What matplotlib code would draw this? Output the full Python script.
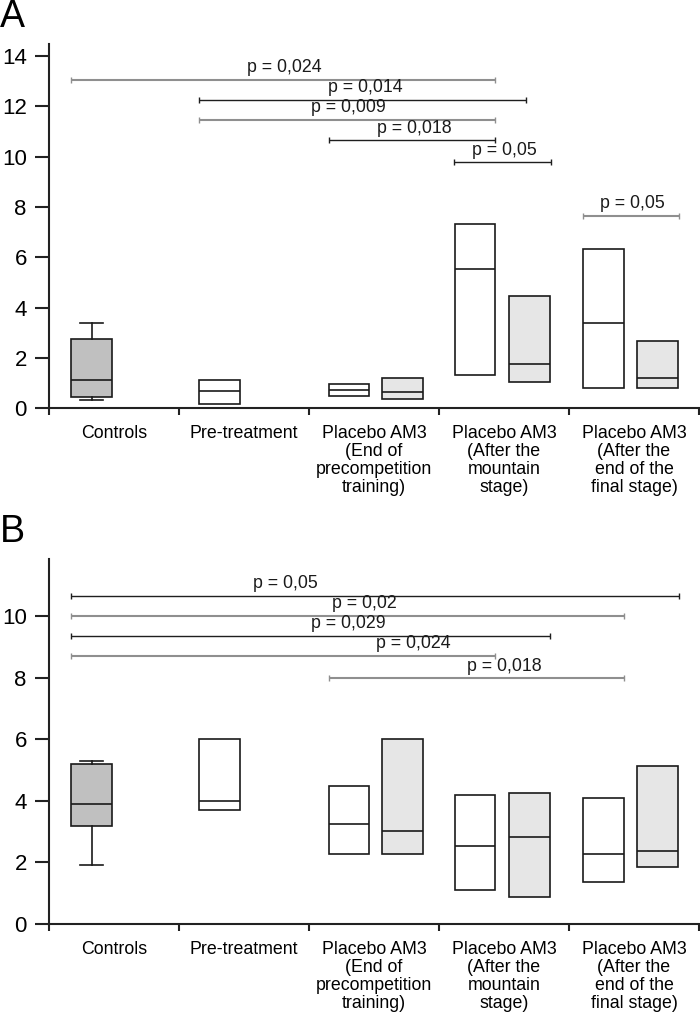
import matplotlib
matplotlib.use("Agg")
import matplotlib.pyplot as plt

plt.rcParams['font.family'] = ['Liberation Sans', 'DejaVu Sans']

# ---------------- data ----------------
categories = ["Controls", "Pre-treatment",
              "Placebo AM3\n(End of\nprecompetition\ntraining)",
              "Placebo AM3\n(After the\nmountain\nstage)",
              "Placebo AM3\n(After the\nend of the\nfinal stage)"]

# box order: Controls, Pre-treatment, Placebo/AM3 (end precomp), Placebo/AM3 (mountain), Placebo/AM3 (final)
box_kind = ["control", "placebo", "placebo", "am3", "placebo", "am3", "placebo", "am3"]

A_q1 = [0.45, 0.17, 0.50, 0.37, 1.32, 1.06, 0.81, 0.81]
A_med = [1.14, 0.70, 0.73, 0.66, 5.54, 1.77, 3.39, 1.20]
A_q3 = [2.74, 1.13, 0.97, 1.22, 7.34, 4.48, 6.32, 2.69]
A_wlo = [0.34, 0.17, 0.50, 0.37, 1.32, 1.06, 0.81, 0.81]
A_whi = [3.38, 1.13, 0.97, 1.22, 7.34, 4.48, 6.32, 2.69]

B_q1 = [3.19, 3.71, 2.28, 2.28, 1.09, 0.87, 1.36, 1.84]
B_med = [3.90, 3.99, 3.24, 3.03, 2.54, 2.81, 2.28, 2.38]
B_q3 = [5.18, 6.00, 4.47, 6.00, 4.18, 4.24, 4.10, 5.12]
B_wlo = [1.93, 3.71, 2.28, 2.28, 1.09, 0.87, 1.36, 1.84]
B_whi = [5.30, 6.00, 4.47, 6.00, 4.18, 4.24, 4.10, 5.12]

# significance brackets
A_sig_labels = ["p = 0,024", "p = 0,014", "p = 0,009", "p = 0,018", "p = 0,05", "p = 0,05"]
A_sig_x1 = [0.17, 1.154, 1.154, 2.154, 3.115, 4.108]
A_sig_x2 = [3.431, 3.669, 3.431, 3.431, 3.862, 4.846]
A_sig_y = [13.06, 12.26, 11.47, 10.66, 9.77, 7.65]
A_sig_tx = [1.813, 2.43, 2.30, 2.813, 3.50, 4.488]
A_sig_dark = [False, True, False, True, True, False]

B_sig_labels = ["p = 0,05", "p = 0,02", "p = 0,029", "p = 0,024", "p = 0,018"]
B_sig_x1 = [0.17, 0.17, 0.17, 0.17, 2.154]
B_sig_x2 = [4.846, 4.423, 3.854, 3.431, 4.423]
B_sig_y = [10.66, 10.01, 9.36, 8.71, 7.98]
B_sig_tx = [1.815, 2.423, 2.30, 2.805, 3.504]
B_sig_dark = [True, False, True, False, False]

# ---------------- layout / style ----------------
positions = [0.329, 1.312, 2.308, 2.719, 3.277, 3.696, 4.265, 4.681]
box_width = 0.312
fills = {"control": "#c0c0c0", "placebo": "#ffffff", "am3": "#e6e6e6"}
dark_col = "#1e1e1e"
gray_col = "#8f8f8f"
FS = 12.8

fig = plt.figure(figsize=(7.0, 10.15), dpi=100)


def draw_panel(ax, q1, med, q3, wlo, whi, ylim_top, yticks,
               labels, x1s, x2s, ys, txs, darks):
    stats = []
    for i in range(len(q1)):
        stats.append(dict(q1=q1[i], med=med[i], q3=q3[i],
                          whislo=wlo[i], whishi=whi[i], fliers=[]))
    bp = ax.bxp(stats, positions=positions, widths=box_width,
                patch_artist=True, showfliers=False, manage_ticks=False,
                capwidths=0.18,
                boxprops=dict(edgecolor="#1a1a1a", linewidth=1.2),
                medianprops=dict(color="#1a1a1a", linewidth=1.2),
                whiskerprops=dict(color="#1a1a1a", linewidth=1.2),
                capprops=dict(color="#1a1a1a", linewidth=1.2))
    for patch, kind in zip(bp["boxes"], box_kind):
        patch.set_facecolor(fills[kind])
    # hide caps for boxes without whiskers
    for i, kind in enumerate(box_kind):
        if kind != "control":
            bp["caps"][2 * i].set_visible(False)
            bp["caps"][2 * i + 1].set_visible(False)

    for lab, x1, x2, y, tx, dk in zip(labels, x1s, x2s, ys, txs, darks):
        col = dark_col if dk else gray_col
        lw = 1.0 if dk else 1.5
        ax.plot([x1, x2], [y, y], color=col, lw=lw, solid_capstyle="butt")
        ax.plot([x1, x2], [y, y], ls="none", marker="|", markersize=5,
                markeredgewidth=1.0, color=col)
        ax.annotate(lab, xy=(tx, y), xytext=(0, 2.5), textcoords="offset points",
                    ha="center", va="bottom", fontsize=FS, color="#1a1a1a")

    ax.set_xlim(0, 5)
    ax.set_ylim(0, ylim_top)
    for s in ["top", "right"]:
        ax.spines[s].set_visible(False)
    for s in ["left", "bottom"]:
        ax.spines[s].set_linewidth(1.5)
        ax.spines[s].set_color("#222222")
    ax.set_yticks(yticks)
    ax.set_yticklabels([str(t) for t in yticks])
    ax.tick_params(axis="y", direction="out", length=10, width=1.5,
                   labelsize=16, pad=6, color="#222222")
    ax.set_xticks([0, 1, 2, 3, 4, 5])
    ax.set_xticklabels([])
    ax.tick_params(axis="x", which="major", direction="out", length=5,
                   width=1.5, color="#222222")
    ax.set_xticks([0.5, 1.5, 2.5, 3.5, 4.5], minor=True)
    ax.set_xticklabels(categories, minor=True, fontsize=FS, linespacing=1.08)
    ax.tick_params(axis="x", which="minor", length=0, pad=12)


axA = fig.add_axes([49 / 700, 1 - 408.3 / 1015, 650 / 700, (408.3 - 44) / 1015])
draw_panel(axA, A_q1, A_med, A_q3, A_wlo, A_whi, 14.48, [0, 2, 4, 6, 8, 10, 12, 14],
           A_sig_labels, A_sig_x1, A_sig_x2, A_sig_y, A_sig_tx, A_sig_dark)

axB = fig.add_axes([49 / 700, 1 - 924 / 1015, 650 / 700, (924 - 559) / 1015])
draw_panel(axB, B_q1, B_med, B_q3, B_wlo, B_whi, 11.85, [0, 2, 4, 6, 8, 10],
           B_sig_labels, B_sig_x1, B_sig_x2, B_sig_y, B_sig_tx, B_sig_dark)

fig.text(0.0, 1 - 27 / 1015, "A", fontsize=27, ha="left", va="baseline")
fig.text(0.0, 1 - 542 / 1015, "B", fontsize=27, ha="left", va="baseline")

fig.savefig("out.png", dpi=100)
